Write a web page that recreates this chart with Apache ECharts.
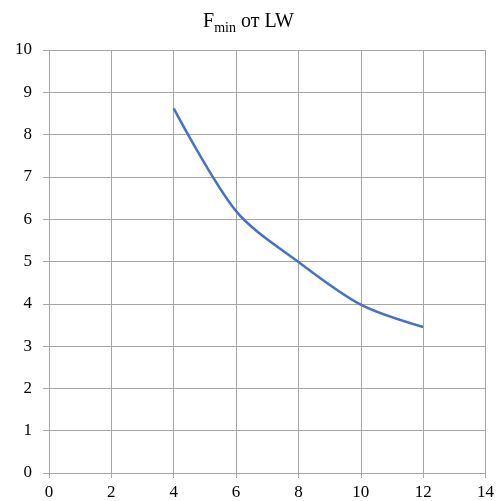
<!DOCTYPE html>
<html>
<head>
<meta charset="utf-8">
<script src="https://cdn.jsdelivr.net/npm/echarts@6/dist/echarts.min.js"></script>
<style>html,body{margin:0;padding:0;background:#fff}#c{width:497px;height:501px}</style>
</head>
<body>
<div id="c"></div>
<script>
var xValues = [4, 6, 8, 10, 12];
var yValues = [8.62, 6.19, 4.99, 3.98, 3.45];
var xTicks = [0, 2, 4, 6, 8, 10, 12, 14];
var yTicks = [0, 1, 2, 3, 4, 5, 6, 7, 8, 9, 10];

var chart = echarts.init(document.getElementById('c'));
var font = '"Liberation Serif", "Times New Roman", serif';
var gridColor = '#a6a6a6';
chart.setOption({
  animation: false,
  title: {
    text: '{f|F}{s|min}{f| от LW}',
    left: 'center',
    top: 4,
    textStyle: {
      rich: {
        f: {fontFamily: font, fontSize: 20, color: '#000', fontWeight: 'normal'},
        s: {fontFamily: font, fontSize: 14, color: '#000', fontWeight: 'normal', verticalAlign: 'bottom', padding: [12, 0, 0, 0]}
      }
    }
  },
  grid: {left: 49, right: 10, top: 50, bottom: 28, containLabel: false},
  xAxis: {
    type: 'value', min: xTicks[0], max: xTicks[xTicks.length - 1], interval: 2,
    axisLine: {lineStyle: {color: gridColor, width: 1}},
    axisTick: {show: true, length: 5, lineStyle: {color: gridColor}},
    splitLine: {show: true, lineStyle: {color: gridColor, width: 1}},
    axisLabel: {fontFamily: font, fontSize: 17, color: '#000', margin: 11}
  },
  yAxis: {
    type: 'value', min: yTicks[0], max: yTicks[yTicks.length - 1], interval: 1,
    axisLine: {show: true, lineStyle: {color: gridColor, width: 1}},
    axisTick: {show: true, length: 6, lineStyle: {color: gridColor}},
    splitLine: {show: true, lineStyle: {color: gridColor, width: 1}},
    axisLabel: {fontFamily: font, fontSize: 17, color: '#000', margin: 17}
  },
  series: [{
    type: 'line',
    data: xValues.map(function (x, i) { return [x, yValues[i]]; }),
    smooth: 0.3,
    showSymbol: false,
    lineStyle: {color: '#4472C4', width: 2.5}
  }]
});
</script>
</body>
</html>
